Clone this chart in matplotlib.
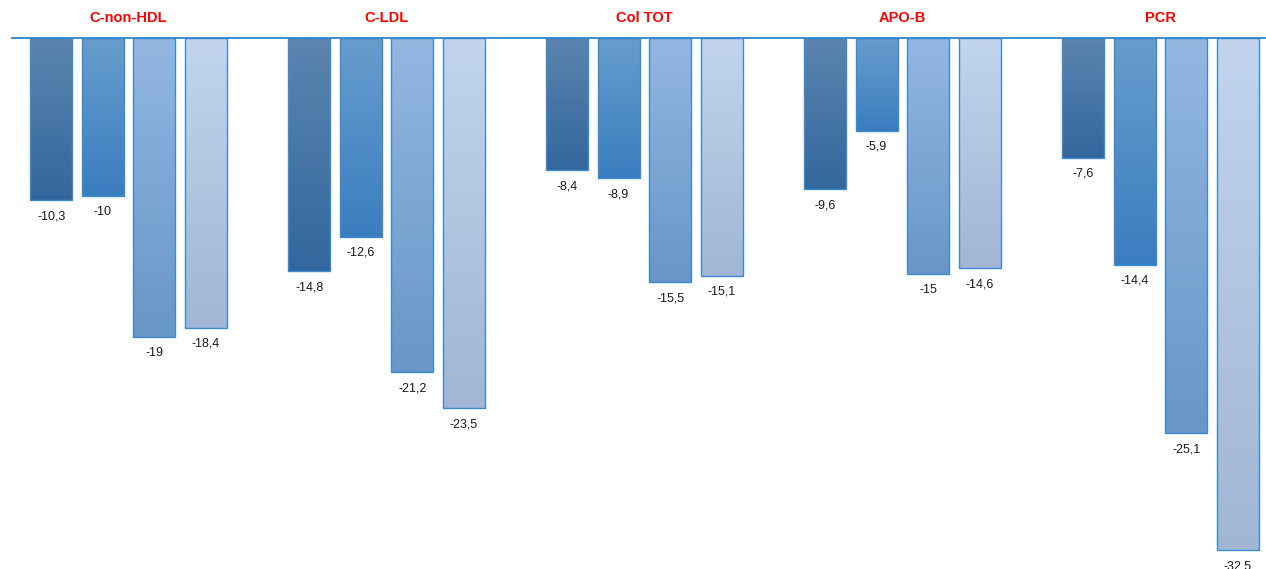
import matplotlib
matplotlib.use("Agg")
import matplotlib.pyplot as plt
import numpy as np
from matplotlib.colors import to_rgb

categories = ["C-non-HDL", "C-LDL", "Col TOT", "APO-B", "PCR"]
series1 = [-10.3, -14.8, -8.4, -9.6, -7.6]
series2 = [-10.0, -12.6, -8.9, -5.9, -14.4]
series3 = [-19.0, -21.2, -15.5, -15.0, -25.1]
series4 = [-18.4, -23.5, -15.1, -14.6, -32.5]
series = [series1, series2, series3, series4]

grad = [("#5C85AF", "#32679D"),
        ("#679DCD", "#3A7DBF"),
        ("#93B7E1", "#6896C7"),
        ("#C2D5ED", "#A1B5D5")]
edge = "#3D8AD0"

W, H = 1266, 569
fig = plt.figure(figsize=(W / 100, H / 100), dpi=100)
unit = 258.0
left_px = 12
top_px = 38
x_left = -0.452
x_right = x_left + (W + 20 - left_px) / unit
ax = fig.add_axes([left_px / W, 0, (W + 20 - left_px) / W, (H - top_px) / H])
ax.set_xlim(x_left, x_right)
ax.set_ylim(-33.7, 0)

offsets = [-0.300, -0.101, 0.100, 0.300]
width = 0.163
x = np.arange(len(categories))

for s, vals in enumerate(series):
    xs = x + offsets[s]
    bars = ax.bar(xs, vals, width=width, facecolor="none", edgecolor=edge,
                  linewidth=1.0, zorder=3)
    c0 = np.array(to_rgb(grad[s][0]))
    c1 = np.array(to_rgb(grad[s][1]))
    t = np.linspace(0, 1, 256)[:, None, None]
    img = c0[None, None, :] * (1 - t) + c1[None, None, :] * t
    for b, xv, v in zip(bars, xs, vals):
        im = ax.imshow(img, extent=[xv - width / 2, xv + width / 2, v, 0],
                       aspect="auto", origin="upper", zorder=2,
                       interpolation="bilinear")
        im.set_clip_path(b)
        ax.annotate(f"{v:g}".replace(".", ","), xy=(xv, v),
                    xytext=(0, -16), textcoords="offset pixels",
                    ha="center", va="center", fontsize=9, color="#1a1a1a",
                    family="Liberation Sans")

ax.set_xlim(x_left, x_right)
ax.set_ylim(-33.7, 0)

for i, c in enumerate(categories):
    ax.annotate(c, xy=(i, 0), xytext=(0, 20), textcoords="offset pixels",
                ha="center", va="center", fontsize=10.5, fontweight="bold",
                color="#FF0000", family="Liberation Sans", annotation_clip=False)

for sp in ["left", "right", "bottom"]:
    ax.spines[sp].set_visible(False)
ax.spines["top"].set_color("#2E86CC")
ax.spines["top"].set_linewidth(1.3)
ax.spines["top"].set_zorder(5)
ax.set_xticks([])
ax.set_yticks([])
ax.patch.set_visible(False)

fig.savefig("out.png", dpi=100)
